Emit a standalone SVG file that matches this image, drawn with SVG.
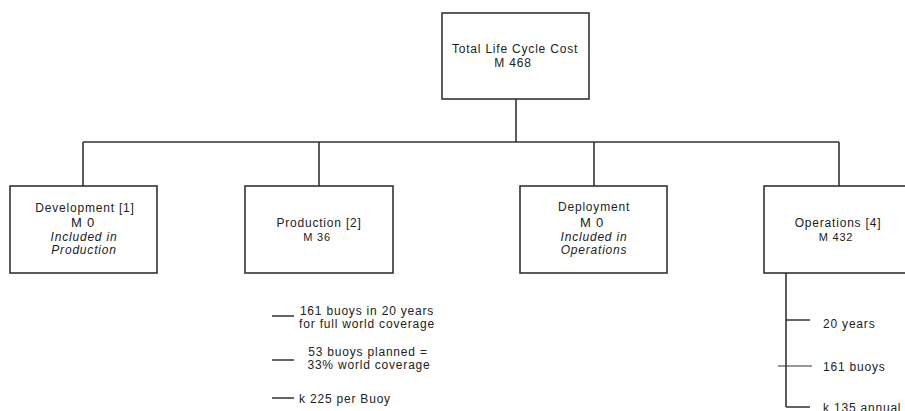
<svg xmlns="http://www.w3.org/2000/svg" width="905" height="411" viewBox="0 0 905 411">
<style>
.box{fill:#fff;stroke:#333;stroke-width:1.6}
.ln{fill:none;stroke:#333;stroke-width:1.6}
.thin{fill:none;stroke:#333;stroke-width:1}
text{font-family:"Liberation Sans",Arial,sans-serif;font-size:12px;fill:#222;letter-spacing:0.8px}
.c{text-anchor:middle}
.it{font-style:italic}
.sm{font-size:11px}
.big{font-size:13px}
</style>
<rect width="905" height="411" fill="#fff"/>
<g id="connectors">
<path class="ln" d="M516 99V142M83 142H839M83 142V186M319 142V186M594 142V186M839 142V186"/>
<path class="ln" d="M786 273V407M786 320H810M786 407H810"/>
<path class="thin" d="M778 366H812"/>
<path class="ln" d="M272 316H294M272 360H294M272 398H294"/>
</g>
<g id="total">
<rect class="box" x="442" y="13" width="147" height="86"/>
<text class="c" x="515" y="53">Total Life Cycle Cost</text>
<text class="c" x="513" y="67">M  468</text>
</g>
<g id="development">
<rect class="box" x="10" y="186" width="147" height="87"/>
<text class="c" x="85" y="212">Development [1]</text>
<text class="c big" x="83" y="227">M  0</text>
<text class="c it" x="84" y="241">Included in</text>
<text class="c it" x="84" y="254">Production</text>
</g>
<g id="production">
<rect class="box" x="245" y="186" width="148" height="87"/>
<text class="c" x="319" y="227">Production [2]</text>
<text class="c sm" x="317" y="241">M  36</text>
</g>
<g id="deployment">
<rect class="box" x="520" y="186" width="147" height="87"/>
<text class="c" x="594" y="211">Deployment</text>
<text class="c big" x="592" y="227">M  0</text>
<text class="c it" x="594" y="241">Included in</text>
<text class="c it" x="594" y="254">Operations</text>
</g>
<g id="operations">
<rect class="box" x="764" y="186" width="150" height="87"/>
<text class="c" x="838" y="227">Operations [4]</text>
<text class="c sm" x="836" y="241">M  432</text>
</g>
<g id="production-notes">
<text class="c" x="367" y="315">161 buoys in 20 years</text>
<text class="c" x="367" y="328">for full world coverage</text>
<text class="c" x="368" y="356">53 buoys planned =</text>
<text class="c" x="369" y="369">33% world coverage</text>
<text x="299" y="403">k  225 per Buoy</text>
</g>
<g id="operations-notes">
<text x="823" y="328">20 years</text>
<text x="823" y="371">161 buoys</text>
<text x="823" y="412">k  135 annual</text>
</g>
</svg>
